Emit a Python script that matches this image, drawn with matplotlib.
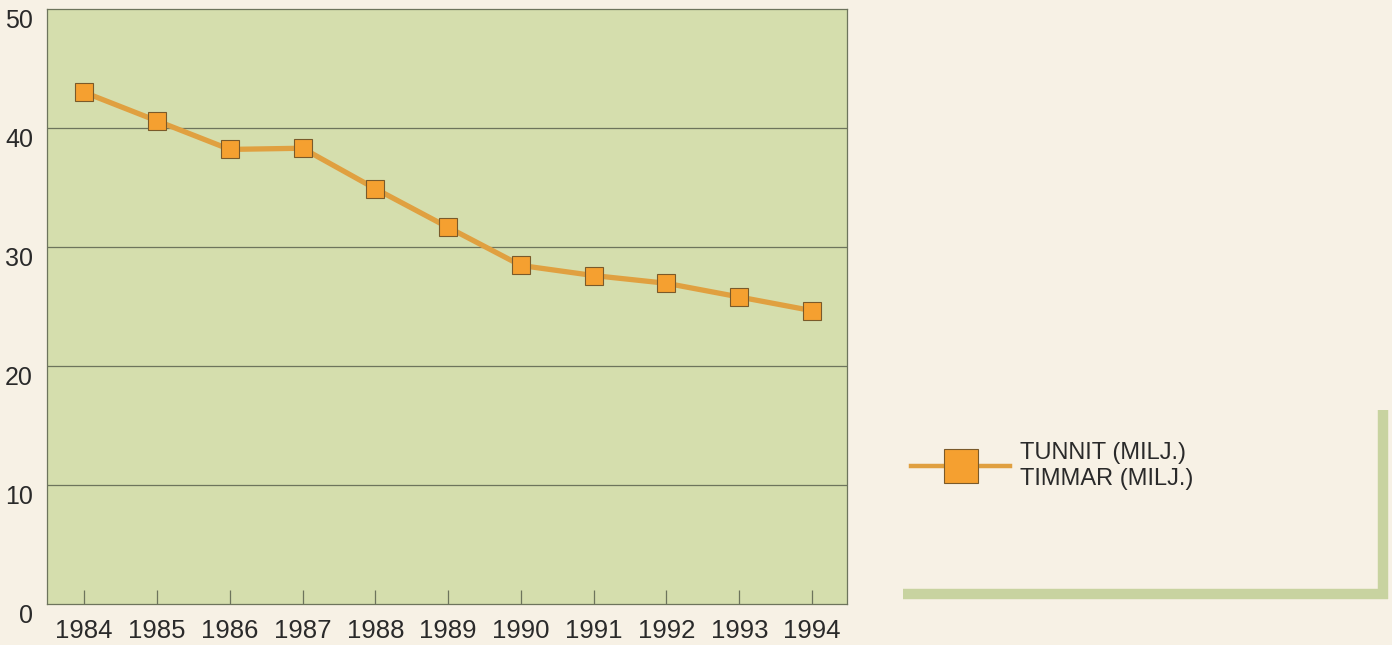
import matplotlib.pyplot as plt
from matplotlib.lines import Line2D

plt.rcParams['font.family'] = ['Liberation Sans', 'DejaVu Sans']

# Tunnit / timmar per year (millions)
years = [1984, 1985, 1986, 1987, 1988, 1989, 1990, 1991, 1992, 1993, 1994]
values = [43.0, 40.6, 38.2, 38.3, 34.9, 31.65, 28.45, 27.6, 26.95, 25.8, 24.65]
y_ticks = [0, 10, 20, 30, 40, 50]
legend_label = 'TUNNIT (MILJ.)\nTIMMAR (MILJ.)'

paper = '#f7f1e5'
panel = '#d5dead'
grid_col = '#6d745c'
line_col = '#e0a040'
marker_col = '#f5a030'
edge_col = '#7a5a2a'
bracket_col = '#c8d3a0'
text_col = '#2a2a2a'

W, H = 1392, 645
fig = plt.figure(figsize=(W / 100, H / 100), dpi=100, facecolor=paper)
ax = fig.add_axes([47 / W, 1 - 604 / H, 800 / W, 595 / H])
ax.set_facecolor(panel)

ax.plot(years, values, color=line_col, lw=3.8, zorder=3,
        marker='s', ms=12.5, mfc=marker_col, mec=edge_col, mew=0.8)

ax.set_xlim(1983.49, 1994.48)
ax.set_ylim(0, 50)
ax.set_xticks(years)
ax.set_xticklabels([str(y) for y in years])
ax.set_yticks(y_ticks)
ax.set_yticklabels([str(v) for v in y_ticks])

for v in y_ticks[1:-1]:
    ax.axhline(v, color=grid_col, lw=0.9, zorder=1)

for s in ax.spines.values():
    s.set_color(grid_col)
    s.set_linewidth(0.9)

ax.tick_params(axis='x', direction='in', length=10, width=0.9, color=grid_col,
               labelsize=18.5, labelcolor=text_col, pad=11)
ax.tick_params(axis='y', length=0, labelsize=18, labelcolor=text_col, pad=10)
for lbl in ax.get_yticklabels():
    lbl.set_verticalalignment('top')

# legend entry
handle = Line2D([], [], color=line_col, lw=3.2, marker='s', ms=25,
                mfc=marker_col, mec=edge_col, mew=0.8)
leg = fig.legend([handle], [legend_label], loc='center left',
                 bbox_to_anchor=(911 / W, 1 - 466 / H), frameon=False,
                 fontsize=17, handlelength=4.2, handletextpad=0.42,
                 borderpad=0, borderaxespad=0, labelcolor=text_col)

# green corner bracket
fig.add_artist(Line2D([903 / W, 1388 / W], [1 - 594 / H, 1 - 594 / H],
                      color=bracket_col, lw=7.5, solid_capstyle='butt'))
fig.add_artist(Line2D([1383 / W, 1383 / W], [1 - 410 / H, 1 - 599 / H],
                      color=bracket_col, lw=7.5, solid_capstyle='butt'))

fig.savefig('out.png', dpi=100, facecolor=paper)
